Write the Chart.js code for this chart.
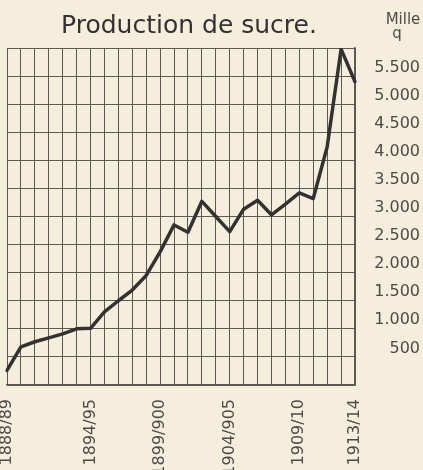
<!DOCTYPE html>
<html>
<head>
<meta charset="utf-8">
<script src="https://cdn.jsdelivr.net/npm/chart.js@4.4.1/dist/chart.umd.min.js"></script>
<style>
  html, body { margin: 0; padding: 0; background: #f5eedc; }
  #wrap { width: 423px; height: 470px; position: relative; }
</style>
</head>
<body>
<div id="wrap"><canvas id="c" width="423" height="470"></canvas></div>
<script>
// ---- data ----
const categories = [
  "1888/89","1889/90","1890/91","1891/92","1892/93","1893/94","1894/95",
  "1895/96","1896/97","1897/98","1898/99","1899/900","1900/01","1901/02",
  "1902/03","1903/04","1904/905","1905/06","1906/07","1907/08","1908/09",
  "1909/10","1910/11","1911/12","1912/13","1913/14"
];
const production = [
  260, 680, 770, 840, 910, 1000, 1010, 1300, 1500, 1690, 1950, 2370, 2850,
  2720, 3270, 3000, 2730, 3130, 3290, 3030, 3220, 3420, 3320, 4240, 5980, 5400
];
const xTickLabels = ["1888/89","1894/95","1899/900","1904/905","1909/10","1913/14"];
const yTickValues = [500,1000,1500,2000,2500,3000,3500,4000,4500,5000,5500];
const titleText = "Production de sucre.";
const unitLines = ["Mille", "q"];

const BG = '#f5eedc';
const INK = '#333230';
const GRID = '#5c5952';
const LABEL = '#4d4b47';

const decorations = {
  id: 'decorations',
  beforeDraw(chart) {
    const ctx = chart.ctx;
    ctx.save();
    ctx.fillStyle = BG;
    ctx.fillRect(0, 0, chart.width, chart.height);
    ctx.restore();
  },
  afterDraw(chart) {
    const ctx = chart.ctx;
    const a = chart.chartArea;
    ctx.save();
    ctx.fillStyle = INK;
    ctx.textAlign = 'center';
    ctx.textBaseline = 'alphabetic';
    ctx.font = '25px "DejaVu Sans"';
    ctx.fillText(titleText, (a.left + a.right) / 2 + 8, a.top - 15);
    ctx.fillStyle = LABEL;
    ctx.font = '15px "DejaVu Sans"';
    ctx.fillText(unitLines[0], a.right + 48, 24);
    ctx.fillText(unitLines[1], a.right + 42, 38);
    ctx.restore();
  }
};

new Chart(document.getElementById('c'), {
  type: 'line',
  data: {
    labels: categories,
    datasets: [{
      data: production,
      borderColor: INK,
      borderWidth: 3.5,
      borderJoinStyle: 'round',
      borderCapStyle: 'round',
      pointRadius: 0,
      tension: 0,
      fill: false
    }]
  },
  options: {
    responsive: false,
    animation: false,
    devicePixelRatio: 1,
    layout: { padding: { left: 0, top: 48, right: 3, bottom: 0 } },
    plugins: { legend: { display: false }, tooltip: { enabled: false }, title: { display: false } },
    scales: {
      x: {
        type: 'category',
        offset: false,
        grid: { color: GRID, lineWidth: 1, drawTicks: false },
        border: { color: GRID, width: 1.5 },
        ticks: {
          autoSkip: false,
          maxRotation: 90,
          minRotation: 90,
          padding: 14,
          color: LABEL,
          font: { family: '"DejaVu Sans"', size: 16 },
          callback(v, i) {
            const lab = categories[i];
            return xTickLabels.includes(lab) ? lab : '';
          }
        },
        afterFit(scale) {
          scale.height = 85;
          scale.paddingLeft = 7;
          scale.paddingRight = 0;
        }
      },
      y: {
        position: 'right',
        min: 0,
        max: 6000,
        grid: { color: GRID, lineWidth: 1, drawTicks: false },
        border: { color: GRID, width: 1.5 },
        ticks: {
          stepSize: 500,
          padding: 19,
          crossAlign: 'far',
          labelOffset: -8.5,
          color: LABEL,
          font: { family: '"DejaVu Sans"', size: 16 },
          callback(v) {
            if (!yTickValues.includes(v)) return '';
            return String(v).replace(/\B(?=(\d{3})+(?!\d))/g, '.');
          }
        },
        afterFit(scale) { scale.width = 65; }
      }
    }
  },
  plugins: [decorations]
});
</script>
</body>
</html>
